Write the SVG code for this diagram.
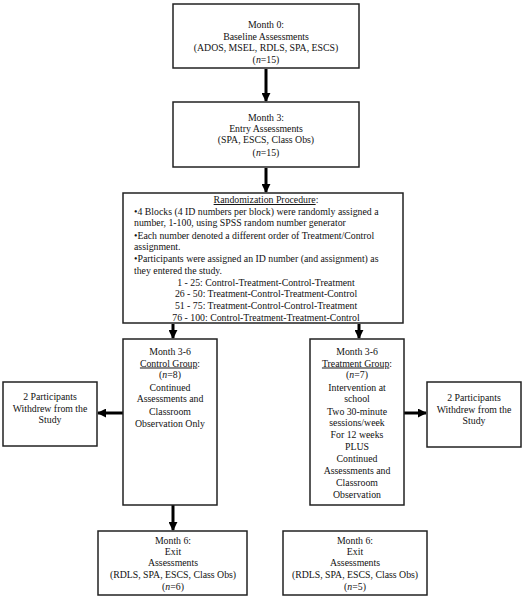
<svg xmlns="http://www.w3.org/2000/svg" width="525" height="600" viewBox="0 0 525 600">
<style>
.box{fill:#fff;stroke:#222;stroke-width:1.5}
text{font-family:"Liberation Serif","Times New Roman",serif;font-size:9.8px;fill:#111}
.c{text-anchor:middle}
.u{text-decoration:underline}
.i{font-style:italic}
.con line{stroke:#000;stroke-width:3}
</style>
<defs>
<marker id="ah" viewBox="0 0 10 10" refX="9" refY="5" markerWidth="3" markerHeight="3" orient="auto" markerUnits="strokeWidth">
<path d="M0,0 L10,5 L0,10 z" fill="#000"/>
</marker>
</defs>
<rect width="525" height="600" fill="#fff"/>
<g id="connectors" class="con">
<line x1="266" y1="69" x2="266" y2="101" marker-end="url(#ah)"/>
<line x1="266" y1="168" x2="266" y2="192" marker-end="url(#ah)"/>
<line x1="173" y1="324" x2="173" y2="338" marker-end="url(#ah)"/>
<line x1="359" y1="324" x2="359" y2="338" marker-end="url(#ah)"/>
<line x1="123" y1="413" x2="98" y2="413" marker-end="url(#ah)"/>
<line x1="404" y1="413" x2="426" y2="413" marker-end="url(#ah)"/>
<line x1="173" y1="505" x2="173" y2="530" marker-end="url(#ah)"/>
</g>
<g id="month0">
<rect class="box" x="173" y="4" width="186" height="64"/>
<text class="c" x="266" y="28">Month 0:</text>
<text class="c" x="266" y="39.5">Baseline Assessments</text>
<text class="c" x="266" y="51">(ADOS, MSEL, RDLS, SPA, ESCS)</text>
<text class="c" x="266" y="63">(<tspan class="i">n</tspan>=15)</text>
</g>
<g id="month3">
<rect class="box" x="173" y="102" width="186" height="65"/>
<text class="c" x="266" y="121">Month 3:</text>
<text class="c" x="266" y="132">Entry Assessments</text>
<text class="c" x="266" y="143">(SPA, ESCS, Class Obs)</text>
<text class="c" x="266" y="155.5">(<tspan class="i">n</tspan>=15)</text>
</g>
<g id="randomization">
<rect class="box" x="123" y="193" width="280" height="130"/>
<text class="c" x="266" y="203"><tspan class="u">Randomization Procedure</tspan>:</text>
<text x="134" y="215">•4 Blocks (4 ID numbers per block) were randomly assigned a</text>
<text x="134" y="226">number, 1-100, using SPSS random number generator</text>
<text x="134" y="238.5">•Each number denoted a different order of Treatment/Control</text>
<text x="134" y="250">assignment.</text>
<text x="134" y="262">•Participants were assigned an ID number (and assignment) as</text>
<text x="134" y="273.5">they entered the study.</text>
<text class="c" x="266" y="285.5">1 - 25: Control-Treatment-Control-Treatment</text>
<text class="c" x="266" y="297">26 - 50: Treatment-Control-Treatment-Control</text>
<text class="c" x="266" y="308.5">51 - 75: Treatment-Control-Control-Treatment</text>
<text class="c" x="266" y="320.5">76 - 100: Control-Treatment-Treatment-Control</text>
</g>
<g id="control">
<rect class="box" x="123" y="339" width="94" height="166"/>
<text class="c" x="170" y="354.5">Month 3-6</text>
<text class="c" x="170" y="366.5"><tspan class="u">Control Group</tspan>:</text>
<text class="c" x="170" y="378">(<tspan class="i">n</tspan>=8)</text>
<text class="c" x="170" y="390.5">Continued</text>
<text class="c" x="170" y="402">Assessments and</text>
<text class="c" x="170" y="414.5">Classroom</text>
<text class="c" x="170" y="426.5">Observation Only</text>
</g>
<g id="treatment">
<rect class="box" x="310" y="339" width="94" height="166"/>
<text class="c" x="357" y="354.5">Month 3-6</text>
<text class="c" x="357" y="366.5"><tspan class="u">Treatment Group</tspan>:</text>
<text class="c" x="357" y="378">(<tspan class="i">n</tspan>=7)</text>
<text class="c" x="357" y="390.5">Intervention at</text>
<text class="c" x="357" y="402">school</text>
<text class="c" x="357" y="414.5">Two 30-minute</text>
<text class="c" x="357" y="426">sessions/week</text>
<text class="c" x="357" y="438">For 12 weeks</text>
<text class="c" x="357" y="450">PLUS</text>
<text class="c" x="357" y="462">Continued</text>
<text class="c" x="357" y="474">Assessments and</text>
<text class="c" x="357" y="486">Classroom</text>
<text class="c" x="357" y="497.5">Observation</text>
</g>
<g id="withdraw-left">
<rect class="box" x="3" y="382" width="94" height="64"/>
<text class="c" x="50" y="400">2 Participants</text>
<text class="c" x="50" y="412">Withdrew from the</text>
<text class="c" x="50" y="423">Study</text>
</g>
<g id="withdraw-right">
<rect class="box" x="427" y="382" width="94" height="65"/>
<text class="c" x="474" y="400.5">2 Participants</text>
<text class="c" x="474" y="412.5">Withdrew from the</text>
<text class="c" x="474" y="423.5">Study</text>
</g>
<g id="exit-control">
<rect class="box" x="98" y="531" width="149" height="64"/>
<text class="c" x="173" y="543.5">Month 6:</text>
<text class="c" x="173" y="554.5">Exit</text>
<text class="c" x="173" y="565.5">Assessments</text>
<text class="c" x="173" y="577.5">(RDLS, SPA, ESCS, Class Obs)</text>
<text class="c" x="173" y="589.5">(<tspan class="i">n</tspan>=6)</text>
</g>
<g id="exit-treatment">
<rect class="box" x="283" y="531" width="144" height="64"/>
<text class="c" x="355" y="543.5">Month 6:</text>
<text class="c" x="355" y="554.5">Exit</text>
<text class="c" x="355" y="565.5">Assessments</text>
<text class="c" x="355" y="577.5">(RDLS, SPA, ESCS, Class Obs)</text>
<text class="c" x="355" y="589.5">(<tspan class="i">n</tspan>=5)</text>
</g>
</svg>
